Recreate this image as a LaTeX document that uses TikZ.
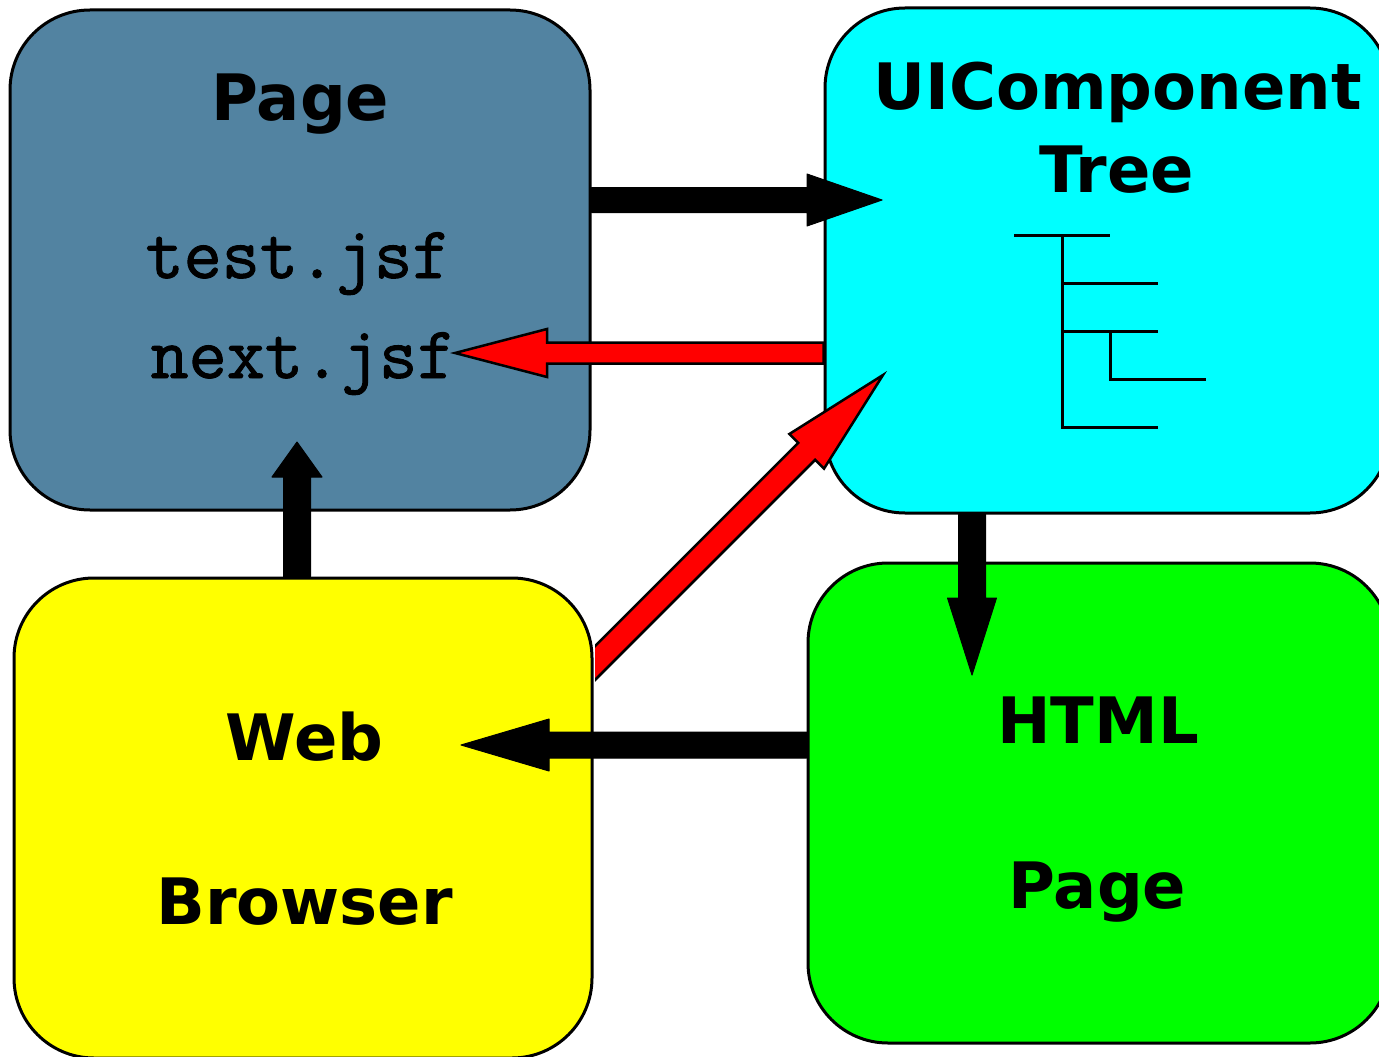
\documentclass[tikz,border=0pt]{standalone}
\usepackage{fontspec}
\newfontfamily\dvs{DejaVu Sans}
\newfontfamily\mono[FakeBold=1.3]{Latin Modern Mono}
\usetikzlibrary{calc}
\definecolor{pageblue}{RGB}{82,131,161}
\definecolor{uicyan}{RGB}{0,255,255}
\definecolor{webyellow}{RGB}{255,255,0}
\definecolor{htmlgreen}{RGB}{0,255,0}
\definecolor{arrowred}{RGB}{255,0,0}
\begin{document}
\begin{tikzpicture}[x=1pt,y=-1pt,
  box/.style={draw=black, line width=3pt, rounded corners=80pt, inner sep=0pt},
  title/.style={font=\dvs\bfseries\fontsize{64}{70}\selectfont, anchor=base, inner sep=0pt},
  code/.style={font=\mono\fontsize{74}{80}\selectfont, anchor=base, inner sep=0pt},
  treeline/.style={line width=3pt},
  blockarrow/.style n args={3}{to path={
    let \p1=(\tikztostart), \p2=(\tikztotarget), \p3=($(\p2)!#3!(\p1)$) in
    ($(\p1)!#1!90:(\p2)$) -- ($(\p3)!#1!90:(\p2)$) -- ($(\p3)!#2!90:(\p2)$) -- (\p2)
    -- ($(\p3)!#2!-90:(\p2)$) -- ($(\p3)!#1!-90:(\p2)$) -- ($(\p1)!#1!-90:(\p2)$) -- cycle
  }},
  blk/.style={fill=black, draw=black, line width=1pt, line join=round},
  redarr/.style={fill=arrowred, draw=black, line width=2.5pt, line join=miter},
]
\useasboundingbox (0,0) rectangle (1379,1057);

% boxes
\node[box, fill=pageblue, minimum width=580pt, minimum height=500pt] (page) at (300,260) {};
\node[box, fill=uicyan, minimum width=565pt, minimum height=505pt] (ui) at (1107.5,260.5) {};
\node[box, fill=webyellow, minimum width=578pt, minimum height=480pt] (web) at (303,818) {};
\node[box, fill=htmlgreen, minimum width=582pt, minimum height=480pt] (html) at (1099,803) {};

% texts
\node[title] (pagetitle) at (300.5,120) {Page};
\node[code] (testjsf) at (298,278) {test.jsf};
\node[code] (nextjsf) at (303,378) {next.jsf};
\node[title] (uititle) at (1117.5,110) {UIComponent};
\node[title] (treetitle) at (1116.5,192) {Tree};
\node[title] (webtitle) at (304.5,760) {Web};
\node[title] (browsertitle) at (304.5,924) {Browser};
\node[title] (htmltitle) at (1098,743) {HTML};
\node[title] (htmlpage) at (1097.5,908) {Page};

% tree icon
\draw[treeline] (1014,235) -- (1110,235);
\draw[treeline] (1062,235) -- (1062,427) -- (1158,427);
\draw[treeline] (1062,283) -- (1158,283);
\draw[treeline] (1062,331) -- (1158,331);
\draw[treeline] (1110,331) -- (1110,379) -- (1206,379);

% tip coordinates
\coordinate (tipui) at (882,200);
\coordinate (tipnext) at (455,353);
\coordinate (tippage) at (297,442);
\coordinate (tiphtml) at (972,675);
\coordinate (tipweb) at (461,745);
\coordinate (tipdiag) at (883,375);
\coordinate (taildiag) at (575,683);

% diagonal red arrow (web -> ui)
\begin{scope}
  \clip ($(web.east)+(1.5,-818)$) rectangle (1379,1057);
  \draw[redarr, blockarrow={12pt}{24.5pt}{108pt}] (taildiag) to (tipdiag);
\end{scope}

% other arrows
\draw[blk, blockarrow={12.5pt}{26pt}{75pt}] ($(page.east)+(0,-60)$) to (tipui);
\draw[redarr, blockarrow={10.5pt}{24pt}{92pt}] ($(ui.west)+(0,92.5)$) to (tipnext);
\draw[blk, blockarrow={13.5pt}{25pt}{35pt}] ($(web.north)+(-6,0)$) to (tippage);
\draw[blk, blockarrow={13.5pt}{24.5pt}{77pt}] ($(ui.south)+(-135.5,0)$) to (tiphtml);
\draw[blk, blockarrow={13pt}{26pt}{88pt}] ($(html.west)+(0,-58)$) to (tipweb);
\end{tikzpicture}
\end{document}
